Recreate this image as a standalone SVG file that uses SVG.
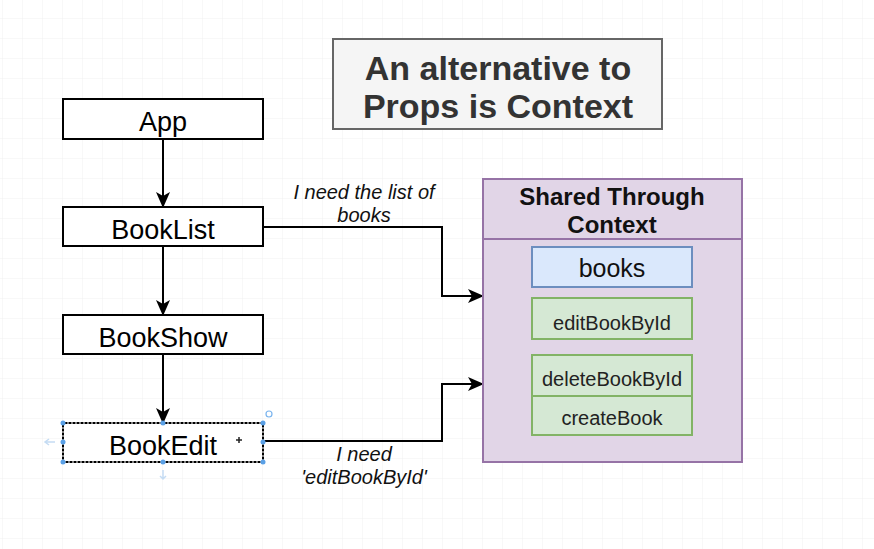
<svg xmlns="http://www.w3.org/2000/svg" width="874" height="549" viewBox="0 0 874 549">
<defs>
<pattern id="grid" x="3" y="-1" width="20" height="20" patternUnits="userSpaceOnUse">
<path d="M20 0V20M0 20H20" fill="none" stroke="#f0f0f0" stroke-width="1"/>
</pattern>
<marker id="arr" viewBox="0 0 16 14" refX="15" refY="7" markerWidth="16" markerHeight="14" markerUnits="userSpaceOnUse" orient="auto">
<path d="M0 0L16 7L0 14L4 7Z" fill="#000"/>
</marker>
</defs>
<style>
.node{fill:#fff;stroke:#000;stroke-width:2}
.lbl{font-family:"Liberation Sans",Arial,sans-serif;font-size:27px;fill:#000;text-anchor:middle}
.edge{fill:none;stroke:#000;stroke-width:2;marker-end:url(#arr)}
.it{font-family:"Liberation Sans",Arial,sans-serif;font-size:20px;font-style:italic;fill:#111;text-anchor:middle}
.grn{fill:#d5e8d4;stroke:#82b366;stroke-width:2}
.gtx{font-family:"Liberation Sans",Arial,sans-serif;font-size:20px;fill:#222;text-anchor:middle}
.h{fill:#5aa0e6}
</style>
<rect width="874" height="549" fill="#fff"/>
<rect width="874" height="549" fill="url(#grid)"/>

<g id="title">
<rect x="333" y="39" width="329" height="90" fill="#f5f5f5" stroke="#666" stroke-width="2"/>
<text x="498" y="80" font-family="'Liberation Sans',Arial,sans-serif" font-size="34" font-weight="bold" fill="#333" text-anchor="middle">An alternative to</text>
<text x="498" y="118" font-family="'Liberation Sans',Arial,sans-serif" font-size="34" font-weight="bold" fill="#333" text-anchor="middle">Props is Context</text>
</g>

<g id="connectors">
<path class="edge" d="M163 139V207"/>
<path class="edge" d="M163 246V315"/>
<path class="edge" d="M163 354V423"/>
<path class="edge" d="M263 227H442V296H483"/>
<path class="edge" d="M263 441H442V384H483"/>
<text class="it" x="364" y="199">I need the list of</text>
<text class="it" x="364" y="222">books</text>
<text class="it" x="364" y="461">I need</text>
<text class="it" x="364" y="484">'editBookById'</text>
</g>

<g id="app">
<rect class="node" x="63" y="99" width="200" height="40"/>
<text class="lbl" x="163" y="131">App</text>
</g>
<g id="booklist">
<rect class="node" x="63" y="207" width="200" height="39"/>
<text class="lbl" x="163" y="239">BookList</text>
</g>
<g id="bookshow">
<rect class="node" x="63" y="315" width="200" height="39"/>
<text class="lbl" x="163" y="347">BookShow</text>
</g>
<g id="bookedit">
<rect class="node" x="63" y="423" width="200" height="39"/>
<rect x="63" y="423" width="200" height="39" fill="none" stroke="#fff" stroke-width="1" stroke-dasharray="2 2"/>
<text class="lbl" x="163" y="455">BookEdit</text>
<path d="M236 440h6M239 437v6" stroke="#222" stroke-width="1.5"/>
<circle class="h" cx="63" cy="423" r="2.5"/><circle class="h" cx="163" cy="423" r="2.5"/><circle class="h" cx="263" cy="423" r="2.5"/>
<circle class="h" cx="63" cy="442" r="2.5"/><circle class="h" cx="263" cy="442" r="2.5"/>
<circle class="h" cx="63" cy="462" r="2.5"/><circle class="h" cx="163" cy="462" r="2.5"/><circle class="h" cx="263" cy="462" r="2.5"/>
<circle cx="269" cy="414" r="3" fill="none" stroke="#7ab4ee" stroke-width="1.2"/>
<path d="M45 442h10M49 439l-4 3 4 3" fill="none" stroke="#c5dcf3" stroke-width="1.5"/>
<path d="M163 470v9M160 476l3 3 3-3" fill="none" stroke="#c5dcf3" stroke-width="1.5"/>
</g>

<g id="context">
<rect x="483" y="179" width="259" height="283" fill="#e1d5e7" stroke="#9673a6" stroke-width="2"/>
<path d="M483 239H742" stroke="#9673a6" stroke-width="2"/>
<text x="612" y="205" font-family="'Liberation Sans',Arial,sans-serif" font-size="24" font-weight="bold" fill="#111" text-anchor="middle">Shared Through</text>
<text x="612" y="233" font-family="'Liberation Sans',Arial,sans-serif" font-size="24" font-weight="bold" fill="#111" text-anchor="middle">Context</text>
</g>
<g id="books">
<rect x="532" y="247" width="160" height="40" fill="#dae8fc" stroke="#6c8ebf" stroke-width="2"/>
<text x="612" y="277" font-family="'Liberation Sans',Arial,sans-serif" font-size="25" fill="#111" text-anchor="middle">books</text>
</g>
<g id="editBookById">
<rect class="grn" x="532" y="298" width="160" height="41"/>
<text class="gtx" x="612" y="330">editBookById</text>
</g>
<g id="deleteBookById">
<rect class="grn" x="532" y="355" width="160" height="41"/>
<text class="gtx" x="612" y="386">deleteBookById</text>
</g>
<g id="createBook">
<rect class="grn" x="532" y="396" width="160" height="39"/>
<text class="gtx" x="612" y="425">createBook</text>
</g>
</svg>
